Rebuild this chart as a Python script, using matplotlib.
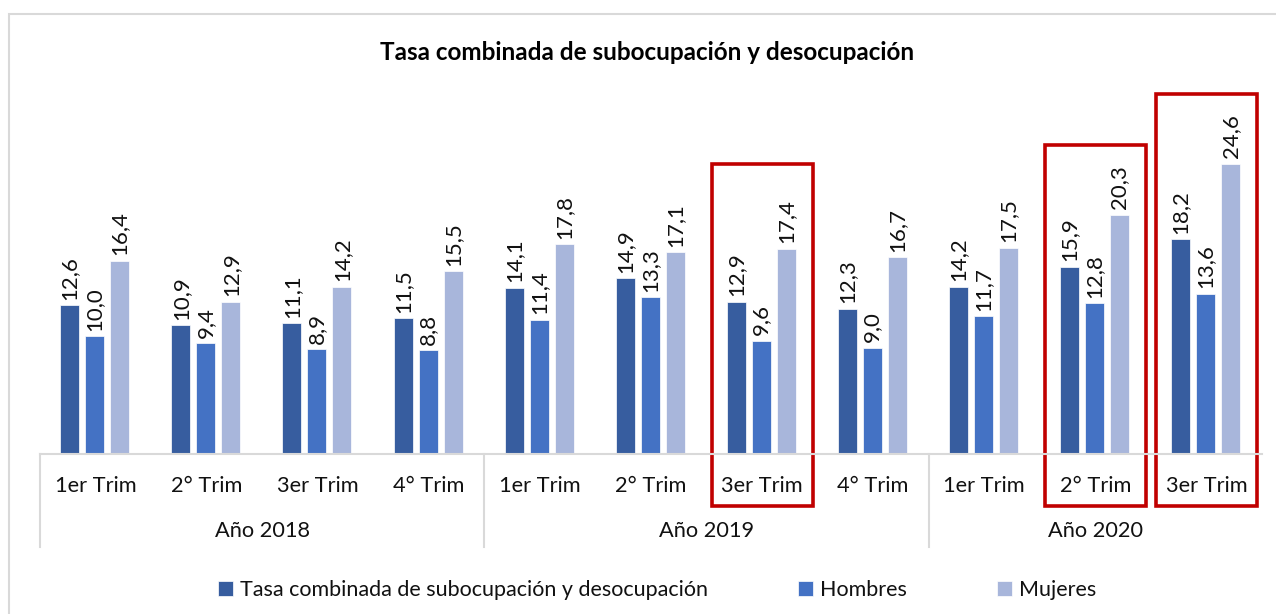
import matplotlib
matplotlib.use("Agg")
import matplotlib.pyplot as plt
from matplotlib.patches import Rectangle
import numpy as np

plt.rcParams['font.family'] = ['Lato', 'DejaVu Sans']

title = "Tasa combinada de subocupación y desocupación"
quarters = ["1er Trim", "2° Trim", "3er Trim", "4° Trim",
            "1er Trim", "2° Trim", "3er Trim", "4° Trim",
            "1er Trim", "2° Trim", "3er Trim"]
years = ["Año 2018", "Año 2019", "Año 2020"]
year_sizes = [4, 4, 3]
series_names = ["Tasa combinada de subocupación y desocupación", "Hombres", "Mujeres"]
tasa = [12.6, 10.9, 11.1, 11.5, 14.1, 14.9, 12.9, 12.3, 14.2, 15.9, 18.2]
hombres = [10.0, 9.4, 8.9, 8.8, 11.4, 13.3, 9.6, 9.0, 11.7, 12.8, 13.6]
mujeres = [16.4, 12.9, 14.2, 15.5, 17.8, 17.1, 17.4, 16.7, 17.5, 20.3, 24.6]
highlight = [6, 9, 10]
highlight_tops = [24.6, 26.2, 30.5]

colors = ["#375D9F", "#4472C4", "#A8B6DB"]
W, H = 1276, 614
fig = plt.figure(figsize=(W / 100, H / 100), dpi=100)
ax = fig.add_axes([40 / W, (H - 454) / H, 1222 / W, 33 * 11.79 / H])

n = len(quarters)
x = np.arange(n)
bw = 0.171
offs = [-0.232, -0.007, 0.218]
series = [tasa, hombres, mujeres]
for s, vals, off, c, name in zip(range(3), series, offs, colors, series_names):
    bars = ax.bar(x + off, vals, width=bw, color=c, label=name,
                  edgecolor='white', linewidth=0.5)
    for xi, v in zip(x + off, vals):
        ax.annotate(f"{v:.1f}".replace('.', ','), (xi, v), xytext=(0, 4),
                    textcoords='offset points', rotation=90, ha='center',
                    va='bottom', fontsize=16, color='#111111')

ax.set_xlim(-0.5, n - 0.5)
ax.set_ylim(0, 33)
ax.axis('off')
ax.plot([-0.5, n - 0.5], [0, 0], color='#D9D9D9', lw=1.5, clip_on=False)

# category labels
for xi, q in zip(x, quarters):
    ax.text(xi, -2.7, q, ha='center', va='center', fontsize=15.7, color='#111111')
# year groups
start = 0
bounds = [-0.5]
for yname, sz in zip(years, year_sizes):
    center = start + (sz - 1) / 2
    ax.text(center, -6.5, yname, ha='center', va='center', fontsize=15.7, color='#111111')
    start += sz
    bounds.append(start - 0.5)
for b in bounds[:-1]:
    ax.plot([b, b], [0, -7.9], color='#D9D9D9', lw=1.5, clip_on=False)

# highlight boxes
for idx, top in zip(highlight, highlight_tops):
    ax.add_patch(Rectangle((idx - 0.455, -4.4), 0.91, top + 4.4, fill=False,
                           ec='#C00000', lw=2.6, clip_on=False))

fig.text(647 / W, 1 - 52 / H, title, ha='center', va='center',
         fontsize=17.5, fontweight='bold', color='#000000')

leg = fig.legend(loc='center', bbox_to_anchor=(657 / W, 1 - 590 / H), ncol=3,
                 frameon=False, fontsize=15.5, handlelength=0.7, handleheight=0.7,
                 handletextpad=0.3, columnspacing=4.2)
for t in leg.get_texts():
    t.set_color('#111111')

fig.add_artist(Rectangle((8.5 / W, -0.05), 1.1, 1.05 - 13.5 / H, fill=False,
                         ec='#D9D9D9', lw=1.5, transform=fig.transFigure))

fig.savefig("out.png", dpi=100)
